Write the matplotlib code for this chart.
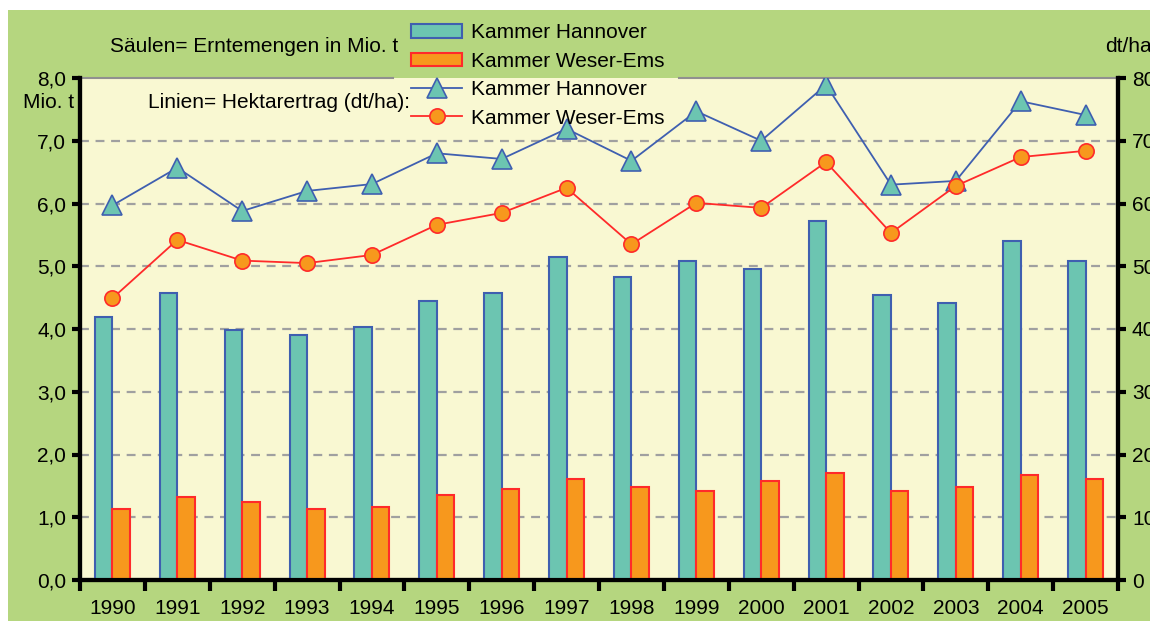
import matplotlib.pyplot as plt
from matplotlib.patches import Rectangle
import numpy as np

years = ['1990', '1991', '1992', '1993', '1994', '1995', '1996', '1997',
         '1998', '1999', '2000', '2001', '2002', '2003', '2004', '2005']

# Erntemengen in Mio. t (Säulen)
menge_hannover = [4.19, 4.57, 3.98, 3.90, 4.03, 4.45, 4.57, 5.14,
                  4.83, 5.08, 4.96, 5.72, 4.54, 4.41, 5.40, 5.08]
menge_weser_ems = [1.13, 1.32, 1.25, 1.13, 1.16, 1.36, 1.45, 1.61,
                   1.48, 1.42, 1.58, 1.70, 1.42, 1.48, 1.67, 1.61]

# Hektarertrag in dt/ha (Linien)
ertrag_hannover = [59.7, 65.7, 58.8, 62.0, 63.1, 68.0, 67.1, 71.9,
                   66.8, 74.7, 70.0, 78.9, 63.0, 63.6, 76.3, 74.1]
ertrag_weser_ems = [44.9, 54.2, 50.9, 50.5, 51.8, 56.6, 58.5, 62.5,
                    53.5, 60.1, 59.3, 66.6, 55.3, 62.8, 67.4, 68.4]

green = '#b5d67f'
plotbg = '#f9f8d2'
teal = '#6cc5b1'
blue = '#3f5fb0'
orange = '#f7981d'
red = '#ff2a2a'

plt.rcParams['font.family'] = ['Liberation Sans', 'DejaVu Sans']
fs = 15

fig = plt.figure(figsize=(11.5, 6.21), dpi=100)
fig.patch.set_facecolor('white')
fig.patches.append(Rectangle((8 / 1150, 0), 1, 1 - 10 / 621, transform=fig.transFigure,
                             facecolor=green, edgecolor='none', zorder=-10))

ax = fig.add_axes([80 / 1150, 41 / 621, 1038 / 1150, 502 / 621])
ax.set_facecolor(plotbg)
x = np.arange(len(years))
w = 0.27

ax.bar(x - w / 2, menge_hannover, w, color=teal, edgecolor=blue, linewidth=1.5,
       label='Kammer Hannover', zorder=3)
ax.bar(x + w / 2, menge_weser_ems, w, color=orange, edgecolor=red, linewidth=1.5,
       label='Kammer Weser-Ems', zorder=3)

ax.set_xlim(-0.5, len(years) - 0.5)
ax.set_ylim(0, 8)
ax.set_yticks(np.arange(0, 9, 1))
ax.set_yticklabels([f'{v:.1f}'.replace('.', ',') for v in range(9)], fontsize=fs)
ax.set_xticks(x)
ax.set_xticklabels(years, fontsize=fs)
ax.tick_params(axis='x', which='major', length=0, pad=14)
ax.set_xticks(np.arange(-0.5, len(years), 1), minor=True)
ax.tick_params(axis='x', which='minor', length=8, width=3, direction='out')
ax.tick_params(axis='y', length=6, width=3, direction='out', pad=4)
for y in range(1, 8):
    ax.axhline(y, color='#a0a0a0', linewidth=1.6, linestyle=(0, (4, 3)), zorder=1)

for s in ['left', 'right', 'bottom']:
    ax.spines[s].set_linewidth(3)
ax.spines['top'].set_visible(False)
ax.axhline(8, xmin=0, xmax=(393 - 80) / 1038, color='#909090', linewidth=1.5, clip_on=False)
ax.axhline(8, xmin=(679 - 80) / 1038, xmax=1, color='#909090', linewidth=1.5, clip_on=False)

ax2 = ax.twinx()
ax2.plot(x, ertrag_hannover, color=blue, linewidth=1.3, marker='^', markersize=14,
         markerfacecolor=teal, markeredgecolor=blue, markeredgewidth=1.2,
         label='Kammer Hannover', zorder=5)
ax2.plot(x, ertrag_weser_ems, color=red, linewidth=1.3, marker='o', markersize=11,
         markerfacecolor=orange, markeredgecolor=red, markeredgewidth=1.2,
         label='Kammer Weser-Ems', zorder=5)
ax2.set_ylim(0, 80)
ax2.set_yticks(np.arange(0, 81, 10))
ax2.set_yticklabels([str(v) for v in range(0, 81, 10)], fontsize=fs)
ax2.tick_params(axis='y', length=6, width=3, direction='out', pad=4)
for s in ['left', 'right', 'bottom']:
    ax2.spines[s].set_linewidth(3)
ax2.spines['top'].set_visible(False)

h1, l1 = ax.get_legend_handles_labels()
h2, l2 = ax2.get_legend_handles_labels()
fig.legend(h1 + h2, l1 + l2, loc='upper left', bbox_to_anchor=(401 / 1150, 1 - 13 / 621),
           frameon=False, fontsize=fs, borderpad=0, labelspacing=0.45,
           handlelength=2.45, handleheight=0.65, handletextpad=0.4)

fig.text(110 / 1150, 1 - 46 / 621, 'Säulen= Erntemengen in Mio. t', fontsize=fs,
         va='center', ha='left')
fig.text(148 / 1150, 1 - 103 / 621, 'Linien= Hektarertrag (dt/ha):', fontsize=fs,
         va='center', ha='left')
fig.text(74 / 1150, 1 - 103 / 621, 'Mio. t', fontsize=fs, va='center', ha='right')
fig.text(1105 / 1150, 1 - 46 / 621, 'dt/ha', fontsize=fs, va='center', ha='left')

plt.savefig('out.png', dpi=100, facecolor=fig.get_facecolor())
